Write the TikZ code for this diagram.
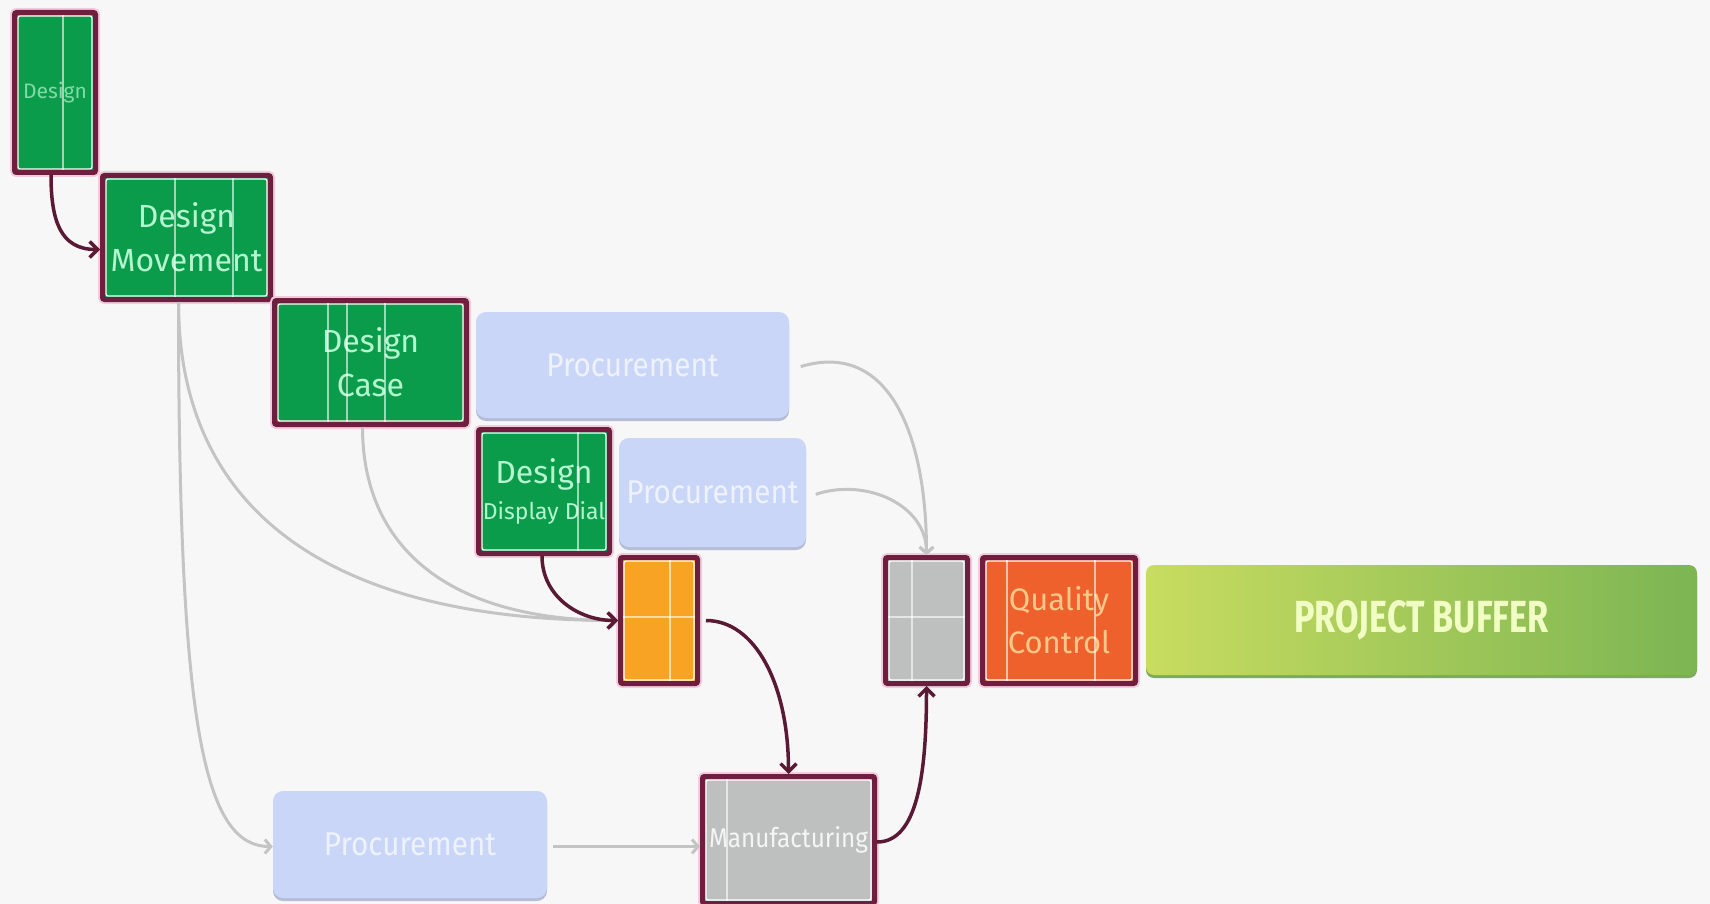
\documentclass[tikz,border=0pt]{standalone}
\usepackage{fontspec}
\newfontfamily\boxfont{Fira Sans}
\newfontfamily\procfont[FakeStretch=0.9]{Fira Sans}
\newfontfamily\buffont[FakeStretch=0.76]{Fira Sans}
\usetikzlibrary{arrows.meta}

\definecolor{bgcolor}{HTML}{F7F7F7}
\definecolor{taskborder}{HTML}{6E1F3F}
\definecolor{taskhalo}{HTML}{F2CCDC}
\definecolor{taskgreen}{HTML}{0A9C4A}
\definecolor{tasktext}{HTML}{B4F5CF}
\definecolor{procblue}{HTML}{CAD6F8}
\definecolor{procedge}{HTML}{B5BDD6}
\definecolor{proctext}{HTML}{EEF2FF}
\definecolor{waitgray}{HTML}{BDC0BE}
\definecolor{assyorange}{HTML}{F8A324}
\definecolor{qcred}{HTML}{EF612C}
\definecolor{qctext}{HTML}{FFC88A}
\definecolor{bufleft}{HTML}{C8DC60}
\definecolor{bufright}{HTML}{7CB553}
\definecolor{buftext}{HTML}{F2FFC4}
\definecolor{linkgray}{HTML}{C4C4C4}
\definecolor{linkdark}{HTML}{5A1A33}

\begin{document}
\begin{tikzpicture}[x=1pt, y=-1pt,
    task/.style={rectangle, rounded corners=2pt, draw=taskborder, line width=5pt, fill=taskgreen,
        inner sep=0pt, align=center, text=tasktext, font=\boxfont\fontsize{32}{44}\selectfont,
        preaction={draw=taskhalo, line width=9pt},
        path picture={\draw[white, line width=1.4pt]
            ([shift={(3.5pt,-3.5pt)}]path picture bounding box.north west) rectangle
            ([shift={(-3.5pt,3.5pt)}]path picture bounding box.south east);}},
    proc/.style={rectangle, rounded corners=10pt, fill=procblue, inner sep=0pt, text=proctext,
        font=\procfont\fontsize{33}{38}\selectfont,
        preaction={fill=procedge, transform canvas={yshift=-3pt}}},
    gridline/.style={white, opacity=0.6, line width=1.5pt, shorten <=5pt, shorten >=5pt},
    flow/.style={linkdark, line width=3.5pt, -{Straight Barb[length=8pt, width=16pt]}},
    feed/.style={linkgray, line width=3pt, -{Straight Barb[length=6pt, width=14pt]}}]

    % Background and page size
    \useasboundingbox[fill=bgcolor] (0,0) rectangle (1710,904);

    % Draw the design tasks
    \node[task, minimum width=81pt, minimum height=160pt, text=tasktext!70!taskgreen, font=\boxfont\fontsize{21}{24}\selectfont] (design) at (55,92.5) {Design};
    \node[task, minimum width=168pt, minimum height=124pt] (designMov) at (186.5,237.5) {Design\\Movement};
    \node[task, minimum width=192pt, minimum height=124pt] (designCase) at (370.5,362.5) {Design\\Case};
    \node[task, minimum width=131pt, minimum height=124pt] (designDial) at (544,491.5) {Design\\[-8pt]{\fontsize{23}{26}\selectfont Display Dial}};

    % Draw the procurement blocks
    \node[proc, minimum width=313pt, minimum height=106pt] (procA) at (632.5,365) {Procurement};
    \node[proc, minimum width=187pt, minimum height=109pt] (procB) at (712.5,492.5) {Procurement};
    \node[proc, minimum width=274pt, minimum height=107pt] (procC) at (410,844.5) {Procurement};

    % Draw assembly, integration and quality control
    \node[task, fill=assyorange, minimum width=77pt, minimum height=126pt] (assembly) at (659,620.5) {};
    \node[task, fill=waitgray, minimum width=82pt, minimum height=126pt] (integr) at (926.5,620.5) {};
    \node[task, fill=qcred, text=qctext, minimum width=153pt, minimum height=126pt, font=\boxfont\fontsize{31}{43}\selectfont] (quality) at (1059,620.5) {Quality\\Control};
    \node[task, fill=waitgray, text=white!92!gray, minimum width=172pt, minimum height=127pt, font=\procfont\fontsize{27}{32}\selectfont] (manuf) at (788.5,840) {\raisebox{-4pt}{Manufacturing}};

    % Draw the project buffer
    \node[rectangle, rounded corners=8pt, left color=bufleft, right color=bufright, minimum width=551pt, minimum height=110pt,
        text=buftext, font=\buffont\bfseries\fontsize{45}{50}\selectfont,
        preaction={fill=bufright!80!gray, transform canvas={yshift=-3pt}}] (buffer) at (1421.5,620) {PROJECT BUFFER};

    % Draw the white grid lines inside the tasks
    \foreach \task/\gx in {design/63, designMov/175, designMov/233, designCase/328, designCase/347, designCase/385,
            designDial/578, assembly/670, integr/912, quality/1007, quality/1095, manuf/727} {
        \draw[gridline] (\gx,0 |- \task.north) -- (\gx,0 |- \task.south);
    }
    \foreach \task in {assembly, integr} {
        \draw[gridline] (\task.west |- 0,617) -- (\task.east |- 0,617);
    }

    % Draw the feeding links (gray)
    \draw[feed] ([xshift=-8pt]designMov.south) .. controls +(0,420) and +(-70,0) .. ([yshift=-2pt]procC.west);
    \draw[feed] ([xshift=-8pt]designMov.south) .. controls +(0,200) and +(-300,0) .. (assembly.west);
    \draw[feed] ([xshift=-8pt]designCase.south) .. controls +(0,120) and +(-170,0) .. (assembly.west);
    \draw[feed, shorten <=6pt] ([yshift=-2pt]procC.east) -- ([yshift=-2pt]manuf.west |- procC.east);
    \draw[feed, shorten <=12pt] ([yshift=-5pt]procA.east) .. controls +(100,-30) and +(0,-120) .. (integr.north);
    \draw[feed, shorten <=10pt] ([yshift=-5pt]procB.east) .. controls +(60,-20) and +(0,-50) .. (integr.north);

    % Draw the critical chain links (dark)
    \draw[flow] ([xshift=-4pt]design.south) .. controls +(0,45) and +(-40,0) .. ([yshift=-12pt]designMov.west);
    \draw[flow] ([xshift=-2pt]designDial.south) .. controls +(0,40) and +(-40,0) .. (assembly.west);
    \draw[flow, shorten <=6pt] (assembly.east) .. controls +(55,0) and +(0,-90) .. (manuf.north);
    \draw[flow] ([yshift=-2pt]manuf.east) .. controls +(40,0) and +(0,90) .. (integr.south);
\end{tikzpicture}
\end{document}
